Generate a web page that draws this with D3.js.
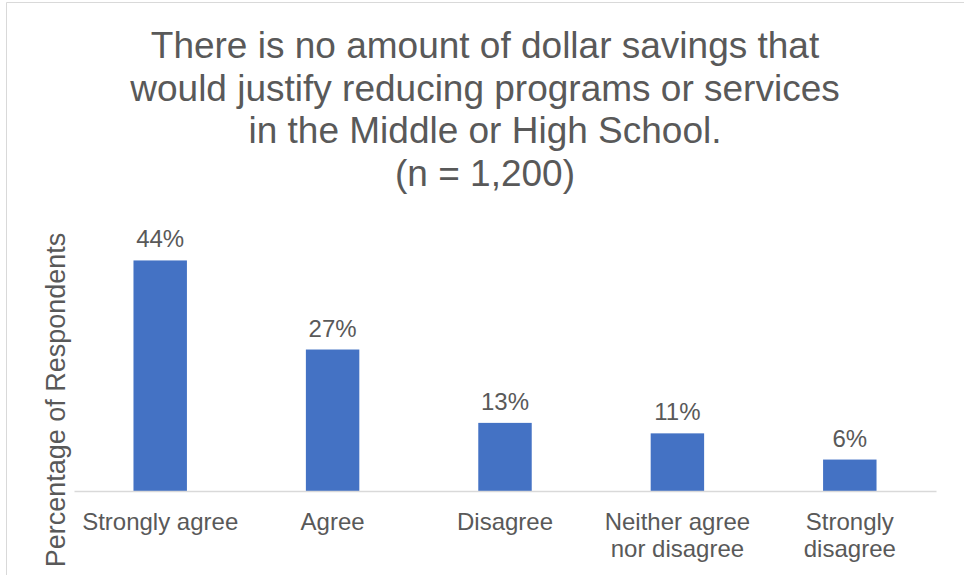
<!DOCTYPE html>
<html>
<head>
<meta charset="utf-8">
<script src="https://cdn.jsdelivr.net/npm/d3@7"></script>
<style>
  html, body { margin: 0; padding: 0; background: #fff; }
  svg { display: block; font-family: "Liberation Sans", Arial, sans-serif; }
</style>
</head>
<body>
<svg id="chart" width="964" height="575"></svg>
<script>
// Survey responses
const categories = ["Strongly agree", "Agree", "Disagree", "Neither agree nor disagree", "Strongly disagree"];
const categoryLines = [["Strongly agree"], ["Agree"], ["Disagree"], ["Neither agree", "nor disagree"], ["Strongly", "disagree"]];
const values = [44, 27, 13, 11, 6];
const titleLines = [
  "There is no amount of dollar savings that",
  "would justify reducing programs or services",
  "in the Middle or High School.",
  "(n = 1,200)"
];
const yAxisTitle = "Percentage of Respondents";

const svg = d3.select("#chart");
const W = 964, H = 575;
const textColor = "#595959";

// chart frame
svg.append("path")
  .attr("d", `M6.5,${H} V2.5 H${W}`)
  .attr("fill", "none")
  .attr("stroke", "#d9d9d9")
  .attr("stroke-width", 1);

const plot = { left: 74, right: 936, top: 229, bottom: 491 };

const x = d3.scaleBand()
  .domain(categories)
  .range([plot.left, plot.right])
  .paddingInner(0.69)
  .paddingOuter(0.345);

const y = d3.scaleLinear()
  .domain([0, 50])
  .range([plot.bottom, plot.top]);

// title
svg.append("text")
  .attr("text-anchor", "middle")
  .attr("fill", textColor)
  .attr("font-size", 37)
  .selectAll("tspan")
  .data(titleLines)
  .join("tspan")
  .attr("x", 485)
  .attr("y", (d, i) => 58 + i * 42.5)
  .text(d => d);

// bars
svg.append("g")
  .selectAll("rect")
  .data(values)
  .join("rect")
  .attr("x", (d, i) => x(categories[i]))
  .attr("width", x.bandwidth())
  .attr("y", d => y(d))
  .attr("height", d => y(0) - y(d))
  .attr("fill", "#4472C4");

// data labels
svg.append("g")
  .selectAll("text")
  .data(values)
  .join("text")
  .attr("x", (d, i) => x(categories[i]) + x.bandwidth() / 2)
  .attr("y", d => y(d) - 13)
  .attr("text-anchor", "middle")
  .attr("fill", textColor)
  .attr("font-size", 24)
  .text(d => d + "%");

// category axis
const xAxis = svg.append("g")
  .attr("transform", `translate(0,${plot.bottom})`)
  .call(d3.axisBottom(x).tickSize(0).tickFormat(""));
xAxis.select(".domain").attr("stroke", "#d9d9d9").attr("stroke-width", 1.5);

const labels = svg.append("g");
categories.forEach((c, i) => {
  labels.append("text")
    .attr("text-anchor", "middle")
    .attr("fill", textColor)
    .attr("font-size", 24)
    .selectAll("tspan")
    .data(categoryLines[i])
    .join("tspan")
    .attr("x", x(c) + x.bandwidth() / 2)
    .attr("y", (d, j) => 529.5 + j * 27)
    .text(d => d);
});

// y-axis title
svg.append("text")
  .attr("transform", `translate(65,400) rotate(-90)`)
  .attr("text-anchor", "middle")
  .attr("fill", textColor)
  .attr("font-size", 27)
  .text(yAxisTitle);
</script>
</body>
</html>
